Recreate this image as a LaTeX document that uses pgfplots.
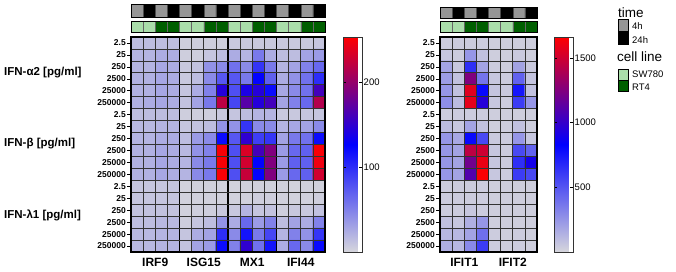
\documentclass[border=0pt]{standalone}
\usepackage{pgfplots}
\pgfplotsset{compat=1.18}
\usepackage{fontspec}
\setmainfont{Liberation Sans}
\definecolor{tgray}{RGB}{150,150,150}
\definecolor{lgreen}{RGB}{170,222,170}
\definecolor{dgreen}{RGB}{0,95,0}
\pgfplotsset{
  /pgf/number format/assume math mode=true,
  /pgf/number format/1000 sep={},
  hm/.style={
    scale only axis, enlargelimits=false, y dir=reverse, axis on top,
    colormap={gbr}{rgb255=(214,214,220) rgb255=(0,0,255) rgb255=(255,0,0)},
    ymin=-0.5, ymax=17.5,
    ytick={0,...,17},
    yticklabels={2.5,25,250,2500,25000,250000,2.5,25,250,2500,25000,250000,2.5,25,250,2500,25000,250000},
    minor ytick={0.5,1.5,...,16.5},
    yminorgrids=true, ymajorgrids=false, xmajorgrids=true, xminorgrids=true,
    major grid style={black, line width=1.8pt},
    minor grid style={black!80, line width=0.75pt},
    ytick pos=left, tick align=outside,
    major tick length=4pt, minor tick length=0pt,
    tick style={black, line width=0.6pt},
    axis line style={line width=1.3pt},
    yticklabel style={font=\bfseries\fontsize{8.5}{9}\selectfont, inner sep=1pt},
    xticklabels={},
    x tick style={draw=none},
    extra x tick style={grid=none, tick style={draw=none},
      xticklabel style={font=\bfseries\fontsize{12}{12}\selectfont, inner sep=2pt}},
    colorbar,
  },
  cb/.style={
    at={(parent axis.north east)}, anchor=north west,
    width=19pt, scale only axis,
    yticklabel pos=right, tick align=inside, major tick length=3pt,
    ytick pos=both,
    tick style={black, line width=0.6pt},
    axis line style={line width=0.8pt, black!80},
    yticklabel style={font=\fontsize{9.5}{10}\selectfont, inner sep=1.5pt},
  },
  ind/.style={
    scale only axis, ymin=0, ymax=1, xtick=\empty, ytick=\empty,
    axis line style={line width=1pt}, axis on top,
  },
}
\begin{document}
\begin{tikzpicture}
\path[use as bounding box] (0pt,0pt) rectangle (676pt,-271pt);

% ---------------- left heatmap ----------------
\begin{axis}[hm, at={(131pt,-37pt)}, anchor=north west,
  width=194pt, height=215pt,
  xmin=-0.5, xmax=15.5,
  xtick={3.5,7.5,11.5},
  minor xtick={0.5,1.5,2.5,4.5,5.5,6.5,8.5,9.5,10.5,12.5,13.5,14.5},
  extra x ticks={1.5,5.5,9.5,13.5}, extra x tick labels={IRF9,ISG15,MX1,IFI44},
  point meta min=0, point meta max=253,
  colorbar style={cb, xshift=9.5pt, ytick={100,200}},
]
\addplot[matrix plot*, mesh/cols=16, point meta=explicit]
  table[row sep=\\, x expr={\coordindex-16*floor((\coordindex+0.5)/16)}, y expr={floor((\coordindex+0.5)/16)}, meta=v] {
v\\
15\\15\\15\\15\\5\\5\\5\\5\\8\\8\\8\\8\\8\\8\\8\\10\\
20\\20\\25\\25\\5\\5\\10\\15\\25\\20\\55\\25\\15\\15\\30\\35\\
20\\20\\28\\25\\8\\12\\40\\45\\60\\45\\95\\55\\20\\30\\50\\65\\
22\\22\\28\\25\\8\\15\\45\\75\\75\\55\\125\\70\\25\\40\\60\\100\\
22\\22\\28\\25\\10\\25\\50\\145\\80\\140\\145\\120\\28\\45\\60\\160\\
22\\25\\28\\25\\12\\30\\55\\220\\85\\170\\145\\160\\30\\50\\65\\215\\
15\\15\\15\\15\\5\\5\\5\\8\\10\\15\\20\\20\\8\\8\\10\\10\\
18\\18\\20\\20\\10\\12\\15\\40\\40\\95\\45\\45\\20\\28\\30\\45\\
20\\20\\25\\25\\15\\35\\45\\120\\75\\150\\90\\95\\30\\55\\60\\120\\
22\\22\\28\\25\\18\\40\\50\\250\\80\\235\\160\\190\\35\\65\\70\\250\\
22\\22\\28\\25\\20\\45\\55\\250\\80\\230\\125\\190\\35\\70\\70\\245\\
22\\22\\28\\25\\20\\45\\55\\250\\80\\225\\125\\190\\35\\65\\70\\230\\
10\\10\\10\\10\\3\\3\\3\\3\\3\\3\\3\\3\\3\\3\\3\\3\\
10\\10\\10\\10\\3\\3\\3\\3\\3\\3\\5\\5\\3\\3\\3\\5\\
12\\12\\12\\12\\3\\5\\5\\8\\8\\20\\10\\12\\5\\8\\8\\12\\
15\\15\\18\\18\\5\\10\\15\\40\\25\\65\\35\\50\\15\\30\\25\\50\\
18\\18\\20\\20\\10\\25\\30\\100\\45\\115\\55\\85\\20\\50\\40\\95\\
18\\18\\20\\20\\12\\30\\35\\120\\50\\150\\60\\115\\25\\65\\45\\122\\
};
\end{axis}

% ---------------- right heatmap ----------------
\begin{axis}[hm, at={(440pt,-37pt)}, anchor=north west,
  width=97pt, height=215pt,
  xmin=-0.5, xmax=7.5,
  xtick={3.5},
  major grid style={black!85, line width=1.3pt},
  minor xtick={0.5,1.5,2.5,4.5,5.5,6.5},
  extra x ticks={1.5,5.5}, extra x tick labels={IFIT1,IFIT2},
  point meta min=0, point meta max=1663,
  colorbar style={cb, xshift=8.5pt, ytick={500,1000,1500}},
]
\addplot[matrix plot*, mesh/cols=8, point meta=explicit]
  table[row sep=\\, x expr={\coordindex-8*floor((\coordindex+0.5)/8)}, y expr={floor((\coordindex+0.5)/8)}, meta=v] {
v\\
40\\40\\40\\40\\30\\30\\30\\30\\
60\\40\\250\\80\\30\\30\\50\\30\\
200\\60\\650\\200\\40\\30\\200\\50\\
220\\80\\1250\\380\\60\\40\\450\\70\\
250\\80\\1560\\800\\70\\50\\750\\80\\
280\\100\\1580\\960\\60\\40\\600\\250\\
40\\40\\40\\40\\30\\30\\30\\30\\
100\\60\\200\\80\\30\\30\\80\\30\\
250\\180\\800\\550\\50\\40\\250\\60\\
250\\200\\1450\\1500\\60\\40\\550\\450\\
250\\200\\1200\\1600\\60\\40\\650\\900\\
250\\200\\1100\\1650\\60\\40\\600\\550\\
40\\40\\40\\40\\30\\30\\30\\30\\
40\\40\\40\\40\\30\\30\\30\\30\\
40\\40\\60\\40\\30\\30\\30\\30\\
80\\60\\150\\250\\30\\30\\30\\30\\
120\\120\\200\\400\\40\\30\\40\\30\\
150\\120\\300\\600\\40\\30\\40\\30\\
};
\end{axis}

% ---------------- indicator bars (left) ----------------
\begin{axis}[ind, at={(131pt,-4pt)}, anchor=north west, width=194pt, height=13pt,
  xmin=-0.5, xmax=15.5]
\addplot[ybar, bar width=1, bar shift=0pt, fill=tgray, draw=black!70, line width=0.5pt]
  coordinates {(0,1) (2,1) (4,1) (6,1) (8,1) (10,1) (12,1) (14,1)};
\addplot[ybar, bar width=1, bar shift=0pt, fill=black, draw=black!70, line width=0.5pt]
  coordinates {(1,1) (3,1) (5,1) (7,1) (9,1) (11,1) (13,1) (15,1)};
\end{axis}
\begin{axis}[ind, at={(131pt,-21pt)}, anchor=north west, width=194pt, height=11pt,
  xmin=-0.5, xmax=15.5]
\addplot[ybar, bar width=1, bar shift=0pt, fill=lgreen, draw=black!60, line width=0.5pt]
  coordinates {(0,1) (1,1) (4,1) (5,1) (8,1) (9,1) (12,1) (13,1)};
\addplot[ybar, bar width=1, bar shift=0pt, fill=dgreen, draw=black!60, line width=0.5pt]
  coordinates {(2,1) (3,1) (6,1) (7,1) (10,1) (11,1) (14,1) (15,1)};
\end{axis}

% ---------------- indicator bars (right) ----------------
\begin{axis}[ind, at={(440pt,-7pt)}, anchor=north west, width=97pt, height=11.5pt,
  xmin=-0.5, xmax=7.5]
\addplot[ybar, bar width=1, bar shift=0pt, fill=tgray, draw=black!70, line width=0.5pt]
  coordinates {(0,1) (2,1) (4,1) (6,1)};
\addplot[ybar, bar width=1, bar shift=0pt, fill=black, draw=black!70, line width=0.5pt]
  coordinates {(1,1) (3,1) (5,1) (7,1)};
\end{axis}
\begin{axis}[ind, at={(440pt,-21pt)}, anchor=north west, width=97pt, height=11pt,
  xmin=-0.5, xmax=7.5]
\addplot[ybar, bar width=1, bar shift=0pt, fill=lgreen, draw=black!60, line width=0.5pt]
  coordinates {(0,1) (1,1) (4,1) (5,1)};
\addplot[ybar, bar width=1, bar shift=0pt, fill=dgreen, draw=black!60, line width=0.5pt]
  coordinates {(2,1) (3,1) (6,1) (7,1)};
\end{axis}

% ---------------- group labels ----------------
\node[anchor=west, font=\bfseries\fontsize{11.5}{12}\selectfont, inner sep=0pt] at (4pt,-73pt) {IFN-α2 [pg/ml]};
\node[anchor=west, font=\bfseries\fontsize{11.5}{12}\selectfont, inner sep=0pt] at (4pt,-144pt) {IFN-β [pg/ml]};
\node[anchor=west, font=\bfseries\fontsize{11.5}{12}\selectfont, inner sep=0pt] at (4pt,-215pt) {IFN-λ1 [pg/ml]};

% ---------------- legend ----------------
\node[anchor=west, font=\fontsize{13.5}{14}\selectfont, inner sep=0pt] at (618pt,-13pt) {time};
\draw[black, line width=0.6pt, fill=tgray] (618pt,-19pt) rectangle (628pt,-31pt);
\draw[black, line width=0.6pt, fill=black] (618pt,-31pt) rectangle (628pt,-44pt);
\node[anchor=west, font=\fontsize{9.5}{10}\selectfont, inner sep=0pt] at (632pt,-26pt) {4h};
\node[anchor=west, font=\fontsize{9.5}{10}\selectfont, inner sep=0pt] at (632pt,-40pt) {24h};
\node[anchor=west, font=\fontsize{13.5}{14}\selectfont, inner sep=0pt] at (617pt,-57pt) {cell line};
\draw[black, line width=0.6pt, fill=lgreen] (618pt,-69pt) rectangle (628pt,-80pt);
\draw[black, line width=0.6pt, fill=dgreen] (618pt,-80pt) rectangle (628pt,-91pt);
\node[anchor=west, font=\fontsize{9.5}{10}\selectfont, inner sep=0pt] at (632pt,-74pt) {SW780};
\node[anchor=west, font=\fontsize{9.5}{10}\selectfont, inner sep=0pt] at (632pt,-87pt) {RT4};
\end{tikzpicture}
\end{document}
